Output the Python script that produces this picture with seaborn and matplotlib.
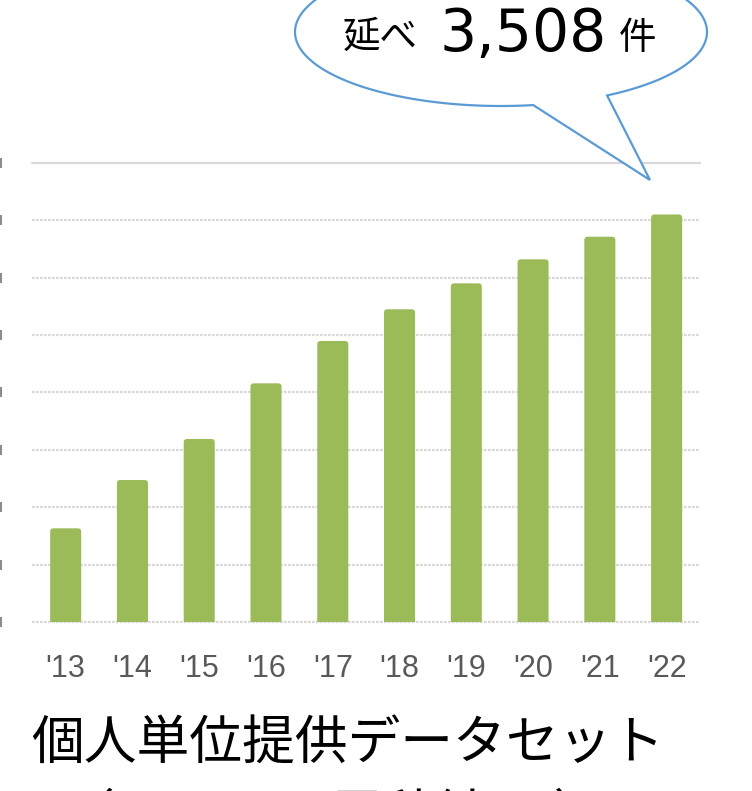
import numpy as np
import pandas as pd
import matplotlib
matplotlib.use("Agg")
import matplotlib.pyplot as plt
import seaborn as sns
from matplotlib.patches import FancyBboxPatch, PathPatch
from matplotlib.path import Path
from matplotlib.lines import Line2D
from matplotlib.transforms import blended_transform_factory

# ---- data ----
years = ["'13", "'14", "'15", "'16", "'17", "'18", "'19", "'20", "'21", "'22"]
counts = [816, 1237, 1594, 2079, 2448, 2724, 2950, 3159, 3356, 3550]
ytick_values = [0, 500, 1000, 1500, 2000, 2500, 3000, 3500, 4000]
title_text = "個人単位提供データセット"
subtitle_text = "（2013–22 累積結果 ）"
bubble_prefix = "延べ"
bubble_number = "3,508"
bubble_suffix = "件"

sns.set_theme(style="white")
plt.rcParams['font.family'] = ['Liberation Sans', 'DejaVu Sans']

W, H = 752, 791
fig = plt.figure(figsize=(W / 100, H / 100), dpi=100)

def fx(x):
    return x / W

def fy(y):
    return 1 - y / H

ax_left, ax_right, ax_top, ax_bot = 32.3, 700, 162.8, 622
ax = fig.add_axes([fx(ax_left), fy(ax_bot), (ax_right - ax_left) / W, (ax_bot - ax_top) / H])

df = pd.DataFrame({"year": years, "count": counts})
sns.barplot(data=df, x="year", y="count", color="#9bbb59", saturation=1, width=0.465, ax=ax, zorder=3)

# rounded bar tops
px_per_x = (ax_right - ax_left) / 10.0
px_per_y = (ax_bot - ax_top) / 4000.0
aspect = (1 / px_per_y) / (1 / px_per_x)
for p in list(ax.patches):
    x0, w, h = p.get_x(), p.get_width(), p.get_height()
    fc = p.get_facecolor()
    p.remove()
    fb = FancyBboxPatch((x0, -40), w, h + 40,
                        boxstyle="round,pad=0,rounding_size=0.05",
                        mutation_aspect=aspect, facecolor=fc, edgecolor="none", zorder=3)
    ax.add_patch(fb)

ax.set_xlim(-0.5, 9.5)
ax.set_ylim(0, 4000)
ax.set_yticks(ytick_values)
ax.set_yticklabels([])
for s in ax.spines.values():
    s.set_visible(False)
ax.set_xlabel("")
ax.set_ylabel("")

grid_color = "#d9d9d9"
for v in ytick_values:
    if v == ytick_values[-1]:
        ax.axhline(v, color=grid_color, lw=1.6, zorder=1, clip_on=False)
    else:
        ax.axhline(v, color=grid_color, lw=1.6, ls=(0, (1.2, 0.6)), zorder=1, clip_on=False)

ax.tick_params(axis="x", length=0, pad=23, labelsize=22, labelcolor="#595959")
ax.tick_params(axis="y", length=0)

# slivers of the cropped y tick labels at the left edge
edge_tr = blended_transform_factory(fig.transFigure, ax.transData)
for v in ytick_values:
    fig.add_artist(Line2D([fx(1)], [v], marker="|", markersize=7, mew=1.5,
                          color="#8c8c8c", linestyle="none", transform=edge_tr))

# bottom title
fig.text(fx(31), fy(744), title_text, fontsize=38, va="center", ha="left",
         family=["Noto Sans CJK JP", "DejaVu Sans"], color="black")
fig.text(fx(62), fy(817), subtitle_text, fontsize=38, va="center", ha="left",
         family=["Noto Sans CJK JP", "DejaVu Sans"], color="black")

# speech bubble
cx, cy, a, b = 501, 32, 206, 74
tip = (650, 180)
t1 = np.radians(81)
t2 = np.radians(59) + 2 * np.pi
ts = np.linspace(t1, t2, 300)
pts = [(fx(cx + a * np.cos(t)), fy(cy + b * np.sin(t))) for t in ts]
pts.append((fx(tip[0]), fy(tip[1])))
pts.append(pts[0])
codes = [Path.MOVETO] + [Path.LINETO] * (len(pts) - 2) + [Path.CLOSEPOLY]
bubble = PathPatch(Path(pts, codes), facecolor="white", edgecolor="#5b9bd5", lw=1.6,
                   transform=fig.transFigure, zorder=10, joinstyle="miter")
fig.add_artist(bubble)

fig.text(fx(343), fy(37), bubble_prefix, fontsize=27, va="center", ha="left",
         family=["Noto Sans CJK JP", "DejaVu Sans"], color="black", zorder=11)
fig.text(fx(440), fy(35), bubble_number, fontsize=42, va="center", ha="left",
         family=["DejaVu Sans"], color="black", zorder=11)
fig.text(fx(619), fy(39), bubble_suffix, fontsize=27, va="center", ha="left",
         family=["Noto Sans CJK JP", "DejaVu Sans"], color="black", zorder=11)

fig.savefig("out.png", dpi=100)
